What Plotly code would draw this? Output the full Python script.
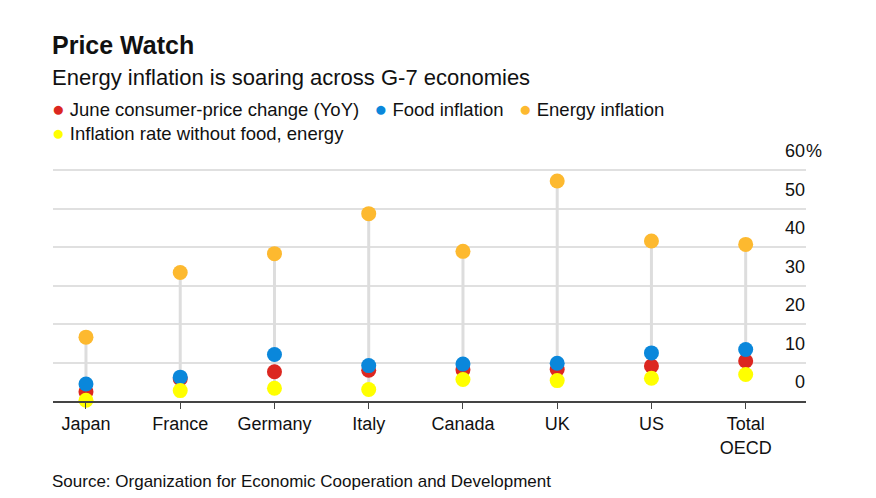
import plotly.graph_objects as go

countries = ["Japan", "France", "Germany", "Italy", "Canada", "UK", "US", "Total<br>OECD"]
cpi_yoy = [2.4, 5.8, 7.6, 8.0, 8.1, 8.2, 9.1, 10.4]
food_inflation = [4.4, 6.2, 12.1, 9.2, 9.6, 9.8, 12.5, 13.4]
energy_inflation = [16.6, 33.4, 38.3, 48.7, 38.9, 57.2, 41.6, 40.7]
core_inflation = [0.2, 2.7, 3.3, 3.0, 5.6, 5.3, 5.9, 6.9]

y_ticks = [0, 10, 20, 30, 40, 50, 60]

series = [
    ("June consumer-price change (YoY)", cpi_yoy, "#dc2720"),
    ("Food inflation", food_inflation, "#0a87db"),
    ("Energy inflation", energy_inflation, "#fdb92f"),
    ("Inflation rate without food, energy", core_inflation, "#ffff00"),
]

FONT = "Liberation Sans, Arial, sans-serif"
TXT = "#111111"

# plot area in pixels (range top slightly above 60 so the 60 gridline shows)
Y_MAX = 60.3
L, R, B = 53, 806, 401
T = B - (B - 170) * Y_MAX / 60.0

fig = go.Figure()

# connecting stems from min to max of each country
lx, ly = [], []
for i, c in enumerate(countries):
    vals = [cpi_yoy[i], food_inflation[i], energy_inflation[i], core_inflation[i]]
    lx += [c, c, None]
    ly += [min(vals), max(vals), None]
fig.add_trace(go.Scatter(x=lx, y=ly, mode="lines", line=dict(color="#dddddd", width=3),
                         hoverinfo="skip", showlegend=False, cliponaxis=False))

for name, vals, col in series:
    fig.add_trace(go.Scatter(x=countries, y=vals, mode="markers", name=name,
                             marker=dict(color=col, size=15, line=dict(width=0)),
                             showlegend=False, cliponaxis=False))

def px_y(p):
    return (B - p) / (B - T)

annotations = []
# y tick labels (inside, right aligned above gridlines)
for t in y_ticks:
    annotations.append(dict(x=1.0, xref="paper", y=t, yref="y", text=str(t),
                            xanchor="right", yanchor="bottom", yshift=7, xshift=1,
                            showarrow=False, font=dict(family=FONT, size=18, color=TXT)))
annotations.append(dict(x=1.0, xref="paper", y=y_ticks[-1], yref="y", text="%",
                        xanchor="left", yanchor="bottom", yshift=7, xshift=-2,
                        showarrow=False, font=dict(family=FONT, size=18, color=TXT)))

DOT = "<span style='color:%s;font-size:21px'>●</span> %s"
legend_row1 = "   ".join(DOT % (c, n) for n, _, c in series[:3])
legend_row2 = DOT % (series[3][2], series[3][0])

texts = [
    (px_y(45), "<b>Price Watch</b>", 25),
    (px_y(77), "Energy inflation is soaring across G-7 economies", 22),
    (px_y(108), legend_row1, 18.5),
    (px_y(132), legend_row2, 18.5),
    (px_y(482), "Source: Organization for Economic Cooperation and Development", 17),
]
for y, text, size in texts:
    annotations.append(dict(x=0, y=y, xref="paper", yref="paper", text=text,
                            xanchor="left", yanchor="middle", showarrow=False, xshift=-2,
                            borderpad=0,
                            font=dict(family=FONT, size=size, color=TXT)))

fig.update_layout(
    width=876, height=498,
    margin=dict(l=L, r=876 - R, t=T, b=498 - B),
    paper_bgcolor="white", plot_bgcolor="white",
    showlegend=False,
    annotations=annotations,
    xaxis=dict(type="category", range=[-0.35, 7.64], showgrid=False,
               showline=True, linecolor="#444444", linewidth=1.5,
               ticks="outside", ticklen=6, tickcolor="#444444", tickwidth=1,
               tickfont=dict(family=FONT, size=18, color=TXT), fixedrange=True),
    yaxis=dict(range=[0, Y_MAX], tickvals=y_ticks, showticklabels=False,
               showgrid=True, gridcolor="#e0e0e0", gridwidth=1.5,
               zeroline=False, showline=False, fixedrange=True),
)

fig.write_html("out.html", config={"displayModeBar": False},
               post_script="document.body.style.margin='0';")
